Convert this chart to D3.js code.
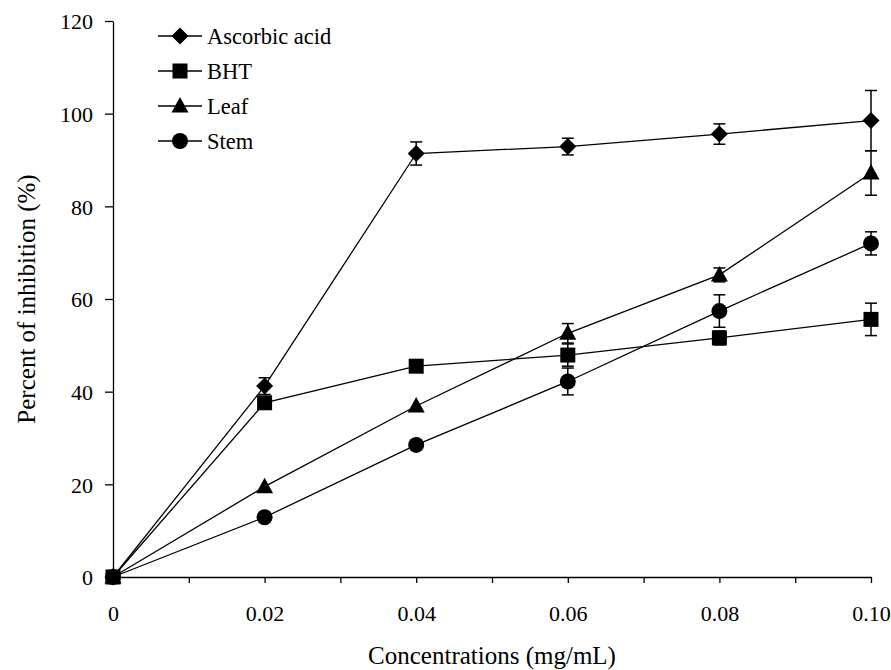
<!DOCTYPE html>
<meta charset="utf-8">
<script src="https://d3js.org/d3.v7.min.js"></script>
<body style="margin:0;background:#fff;">
<div id="chart"></div>
<script>

// concentrations (mg/mL)
var conc = [0, 0.02, 0.04, 0.06, 0.08, 0.10];

// percent of inhibition
var ascorbic = [0, 41.2, 91.4, 92.9, 95.6, 98.5];
var bht      = [0, 37.6, 45.5, 47.9, 51.6, 55.6];
var leaf     = [0, 19.5, 36.9, 52.6, 65.2, 87.2];
var stem     = [0, 12.9, 28.5, 42.2, 57.4, 72.0];

// error bars (+/-)
var ascorbicErr = [0, 1.8, 2.5, 1.8, 2.2, 6.5];
var bhtErr      = [0, 0, 0, 2.4, 1.5, 3.5];
var leafErr     = [0, 0, 0, 2.1, 1.5, 4.8];
var stemErr     = [0, 0, 0, 2.9, 3.5, 2.5];

var names = ["Ascorbic acid", "BHT", "Leaf", "Stem"];
var xTicks = [0, 0.01, 0.02, 0.03, 0.04, 0.05, 0.06, 0.07, 0.08, 0.09, 0.10];
var xLabels = {"0": "0", "0.02": "0.02", "0.04": "0.04", "0.06": "0.06", "0.08": "0.08", "0.1": "0.10"};
var yTicks = [0, 20, 40, 60, 80, 100, 120];

var series = [
  {name: names[0], vals: ascorbic, err: ascorbicErr, shape: "diamond"},
  {name: names[1], vals: bht, err: bhtErr, shape: "square"},
  {name: names[2], vals: leaf, err: leafErr, shape: "triangle"},
  {name: names[3], vals: stem, err: stemErr, shape: "circle"}
];

var W = 891, H = 670;
var font = "'Liberation Serif', 'Times New Roman', serif";

var svg = d3.select("#chart").append("svg")
    .attr("width", W)
    .attr("height", H)
    .style("font-family", font);

var x = d3.scaleLinear().domain([0, 0.10]).range([113, 871]);
var y = d3.scaleLinear().domain([0, 120]).range([577, 21]);

// axes
var xAxis = svg.append("g")
    .attr("transform", "translate(0," + y(0) + ")")
    .call(d3.axisBottom(x).tickValues(xTicks).tickSize(6).tickSizeOuter(0)
      .tickFormat(function(d) { return xLabels[String(+d.toFixed(2))] || ""; }));
xAxis.selectAll("text").attr("dy", 0).attr("y", 44).style("font-size", "22px").attr("fill", "#000").attr("font-family", font);

var yAxis = svg.append("g")
    .attr("transform", "translate(" + x(0) + ",0)")
    .call(d3.axisLeft(y).tickValues(yTicks).tickSize(8).tickSizeOuter(0).tickFormat(d3.format("d")));
yAxis.selectAll("text").attr("x", -20).attr("dy", "0.35em").style("font-size", "22px").attr("fill", "#000").attr("font-family", font);

svg.selectAll(".domain, .tick line").attr("stroke", "#000").attr("stroke-width", 1.3);

// axis titles
svg.append("text")
    .attr("x", (x(0) + x(0.10)) / 2)
    .attr("y", 664)
    .attr("text-anchor", "middle")
    .style("font-size", "25px")
    .text("Concentrations (mg/mL)");

svg.append("text")
    .attr("transform", "translate(35," + (y(0) + y(120)) / 2 + ") rotate(-90)")
    .attr("text-anchor", "middle")
    .style("font-size", "25px")
    .text("Percent of inhibition (%)");

// marker shapes
function marker(g, shape, cx, cy) {
  if (shape === "diamond") {
    g.append("path").attr("d", "M" + cx + "," + (cy - 8.5) + "L" + (cx + 8.5) + "," + cy + "L" + cx + "," + (cy + 8.5) + "L" + (cx - 8.5) + "," + cy + "Z");
  } else if (shape === "square") {
    g.append("rect").attr("x", cx - 7.5).attr("y", cy - 7.5).attr("width", 15).attr("height", 15);
  } else if (shape === "triangle") {
    g.append("path").attr("d", "M" + cx + "," + (cy - 9) + "L" + (cx + 8.5) + "," + (cy + 6.5) + "L" + (cx - 8.5) + "," + (cy + 6.5) + "Z");
  } else {
    g.append("circle").attr("cx", cx).attr("cy", cy).attr("r", 8);
  }
}

var line = d3.line()
    .x(function(d, i) { return x(conc[i]); })
    .y(function(d) { return y(d); });

// lines
series.forEach(function(s) {
  svg.append("path")
      .datum(s.vals)
      .attr("fill", "none")
      .attr("stroke", "#000")
      .attr("stroke-width", 1.3)
      .attr("d", line);
});

// error bars
series.forEach(function(s) {
  s.vals.forEach(function(v, i) {
    var e = s.err[i];
    if (!e) return;
    var cx = x(conc[i]);
    var g = svg.append("g").attr("stroke", "#000").attr("stroke-width", 1.5);
    g.append("line").attr("x1", cx).attr("x2", cx).attr("y1", y(v + e)).attr("y2", y(v - e));
    g.append("line").attr("x1", cx - 6).attr("x2", cx + 6).attr("y1", y(v + e)).attr("y2", y(v + e));
    g.append("line").attr("x1", cx - 6).attr("x2", cx + 6).attr("y1", y(v - e)).attr("y2", y(v - e));
  });
});

// markers
series.forEach(function(s) {
  var g = svg.append("g").attr("fill", "#000");
  s.vals.forEach(function(v, i) {
    marker(g, s.shape, x(conc[i]), y(v));
  });
});

// legend
var legendY = [36, 71, 106, 141];
series.forEach(function(s, i) {
  var g = svg.append("g").attr("fill", "#000");
  g.append("line").attr("x1", 158).attr("x2", 202).attr("y1", legendY[i]).attr("y2", legendY[i])
      .attr("stroke", "#000").attr("stroke-width", 1.3);
  marker(g, s.shape, 180, legendY[i]);
  g.append("text").attr("x", 207).attr("y", legendY[i]).attr("dy", "0.35em")
      .style("font-size", "22.5px").text(s.name);
});

</script>
</body>
